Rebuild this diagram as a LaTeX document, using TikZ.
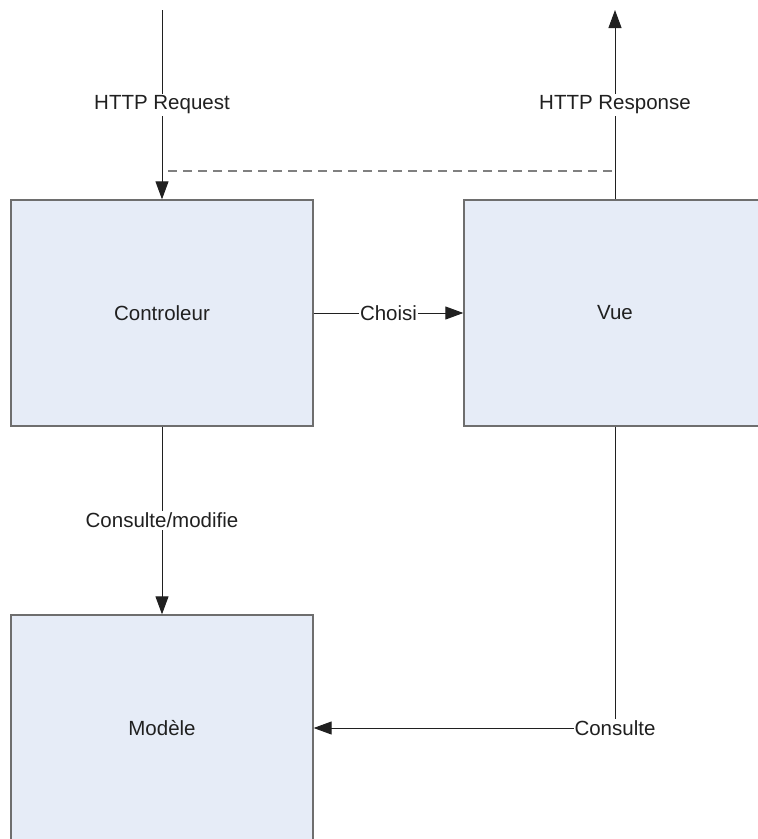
\documentclass[tikz,border=0pt]{standalone}
\usepackage{fontspec}
\setmainfont{Liberation Sans}
\usepackage{tikz}
\usetikzlibrary{arrows.meta}
\definecolor{boxfill}{HTML}{E6ECF7}
\definecolor{boxline}{HTML}{6E6E6E}
\definecolor{inkgray}{HTML}{202020}

\begin{document}
\begin{tikzpicture}[x=1pt,y=-1pt,
    bloc/.style={draw=boxline,line width=1.3pt,fill=boxfill,minimum width=302pt,minimum height=226pt,inner sep=0pt,text=inkgray},
    fleche/.style={draw=inkgray,line width=1pt,-{Triangle[length=18pt,width=13pt]}},
    etiq/.style={fill=white,inner sep=2pt,text=inkgray},
    pointille/.style={draw=gray,line width=1.2pt,dash pattern=on 9pt off 6pt},
    every node/.style={font=\fontsize{20.5}{24}\selectfont}]
  \useasboundingbox (0,0) rectangle (758,839);
  % the three blocks
  \node[bloc] (ctrl) at (162,313) {Controleur};
  \node[bloc] (vue) at (615,313) {Vue};
  \node[bloc] (modele) at (162,728) {Modèle};
  % free ends of the request and response
  \coordinate (req) at (162,10);
  \coordinate (rep) at (615,10);
  \coordinate (dl) at (168,171);
  \coordinate (dr) at (612,171);
  \draw[fleche] (req) -- node[etiq] {HTTP Request} (ctrl);
  \draw[fleche] (vue) -- node[etiq] {HTTP Response} (rep);
  \draw[pointille] (dl) -- (dr); % request and response are linked
  % links between the blocks
  \draw[fleche] (ctrl) -- node[etiq,inner sep=1pt] {Choisi} (vue);
  \draw[fleche] (ctrl) -- node[etiq] {Consulte/modifie} (modele);
  \draw[fleche] (vue) |- node[etiq,inner sep=1pt] {Consulte} (modele);
\end{tikzpicture}
\end{document}
